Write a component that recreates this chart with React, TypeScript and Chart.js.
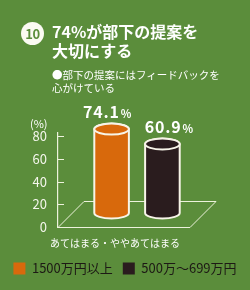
import React, { useEffect, useRef } from "react";
import { Chart, registerables } from "chart.js";

Chart.register(...registerables);

// ---- data ----
const categories = ["あてはまる・ややあてはまる"];
const seriesNames = ["1500万円以上", "500万〜699万円"];
const seriesHigh = [74.1];
const seriesMid = [60.9];
const seriesColors = ["#d8690c", "#2a1c1e"];
const yTickValues = [0, 20, 40, 60, 80];
const yMin = 0;
const yMax = 83;
const yUnit = "(%)";
const badgeText = "10";
const titleLines = ["74%が部下の提案を", "大切にする"];
const subtitleLines = ["●部下の提案にはフィードバックを", "心がけている"];

// ---- style ----
const FONT = "'Noto Sans CJK JP', 'Noto Sans', sans-serif";
const BG = "#5b8d3b";
const LINE = "#edf2dc";
const OUTLINE = "#f7f4e8";
const DEPTH = 26;
const SHIFT_X = 13;
const SHIFT_Y = 14;
const RY = 5.5;
const LABEL_NUDGE = [-4, 7];

Chart.defaults.font.family = FONT;

const cylinderPlugin = {
  id: "cylinders",
  beforeDatasetsDraw(chart: any) {
    const { ctx, chartArea: a, scales } = chart;
    ctx.save();
    ctx.strokeStyle = LINE;
    ctx.lineWidth = 1;
    const b = Math.round(a.bottom) + 0.5;
    const l = Math.round(a.left);
    const r = Math.round(a.right);
    ctx.beginPath();
    ctx.moveTo(l, b);
    ctx.lineTo(r, b);
    ctx.lineTo(r + DEPTH, b - DEPTH);
    ctx.lineTo(l + DEPTH, b - DEPTH);
    ctx.closePath();
    ctx.stroke();
    const ys = scales.y;
    ctx.beginPath();
    yTickValues.forEach((v) => {
      if (v === 0) return;
      const py = Math.round(ys.getPixelForValue(v)) + 0.5;
      ctx.moveTo(l, py);
      ctx.lineTo(l + 6, py);
    });
    ctx.lineWidth = 1.2;
    ctx.stroke();
    ctx.restore();
  },
  beforeDatasetDraw() {
    return false;
  },
  afterDatasetsDraw(chart: any) {
    const { ctx } = chart;
    chart.data.datasets.forEach((ds: any, i: number) => {
      const meta = chart.getDatasetMeta(i);
      meta.data.forEach((el: any, j: number) => {
        const cx = el.x + SHIFT_X;
        const topY = el.y - SHIFT_Y;
        const baseY = el.base - SHIFT_Y;
        const rx = el.width / 2 - 1;
        ctx.save();
        ctx.fillStyle = ds.backgroundColor;
        ctx.strokeStyle = OUTLINE;
        ctx.lineWidth = 2;
        ctx.beginPath();
        ctx.moveTo(cx - rx, topY);
        ctx.lineTo(cx - rx, baseY);
        ctx.ellipse(cx, baseY, rx, RY, 0, Math.PI, 0, true);
        ctx.lineTo(cx + rx, topY);
        ctx.ellipse(cx, topY, rx, RY, 0, 0, Math.PI, true);
        ctx.closePath();
        ctx.fill();
        ctx.stroke();
        ctx.beginPath();
        ctx.ellipse(cx, topY, rx, RY, 0, 0, Math.PI * 2);
        ctx.fill();
        ctx.stroke();

        // value label
        const value = ds.data[j];
        const num = value.toFixed(1);
        ctx.fillStyle = "#ffffff";
        ctx.textAlign = "left";
        ctx.textBaseline = "alphabetic";
        (ctx as any).letterSpacing = "0.8px";
        ctx.font = `bold 16px ${FONT}`;
        const w1 = ctx.measureText(num).width;
        ctx.font = `bold 11px ${FONT}`;
        const w2 = ctx.measureText("%").width;
        const total = w1 + 1 + w2;
        const sx = cx - total / 2 + (LABEL_NUDGE[i] || 0);
        const by = topY - RY - 6;
        ctx.font = `bold 16px ${FONT}`;
        ctx.fillText(num, sx, by);
        ctx.font = `bold 11px ${FONT}`;
        ctx.fillText("%", sx + w1 + 1, by);
        ctx.restore();
      });
    });
  },
};

export default function App() {
  const ref = useRef<HTMLCanvasElement>(null);
  useEffect(() => {
    const chart = new Chart(ref.current as HTMLCanvasElement, {
      type: "bar",
      data: {
        labels: categories,
        datasets: [
          {
            label: seriesNames[0],
            data: seriesHigh,
            backgroundColor: seriesColors[0],
            borderWidth: 0,
            categoryPercentage: 0.77,
            barPercentage: 0.72,
          },
          {
            label: seriesNames[1],
            data: seriesMid,
            backgroundColor: seriesColors[1],
            borderWidth: 0,
            categoryPercentage: 0.77,
            barPercentage: 0.72,
          },
        ],
      },
      options: {
        responsive: false,
        animation: false,
        events: [],
        layout: { padding: { top: 133, bottom: 5, left: 0, right: 0 } },
        plugins: {
          tooltip: { enabled: false },
          legend: {
            position: "bottom",
            labels: {
              boxWidth: 12,
              boxHeight: 12,
              padding: 10,
              color: "#1d1915",
              font: { size: 13, family: FONT },
            },
          },
        },
        scales: {
          x: {
            type: "category",
            grid: { display: false, drawTicks: false },
            border: { display: false },
            ticks: {
              color: "#ffffff",
              font: { size: 10, family: FONT },
              padding: 10,
              labelOffset: -9,
              maxRotation: 0,
              autoSkip: false,
            },
            afterFit: (s: any) => {
              s.height = 25;
            },
          },
          y: {
            type: "linear",
            min: yMin,
            max: yMax,
            grid: { display: false, drawTicks: false },
            border: { display: true, color: LINE, width: 1.2 },
            ticks: {
              color: "#f4f6ec",
              font: { size: 13, family: FONT },
              padding: 11,
            },
            afterBuildTicks: (s: any) => {
              s.ticks = yTickValues.map((v) => ({ value: v }));
            },
            afterFit: (s: any) => {
              s.width = 58;
            },
          },
          yRight: {
            type: "linear",
            position: "right",
            grid: { display: false, drawTicks: false },
            border: { display: false },
            ticks: { display: false },
            afterFit: (s: any) => {
              s.width = 60;
            },
          },
        },
      } as any,
      plugins: [cylinderPlugin as any],
    });
    return () => chart.destroy();
  }, []);

  return (
    <div
      style={{
        position: "fixed",
        left: 0,
        top: 0,
        width: 250,
        height: 290,
        background: BG,
        overflow: "hidden",
        fontFamily: FONT,
        color: "#ffffff",
      }}
    >
      <canvas
        ref={ref}
        width={250}
        height={290}
        style={{ position: "absolute", left: 0, top: 0, width: 250, height: 290 }}
      />
      <div
        style={{
          position: "absolute",
          left: 21,
          top: 22,
          width: 23,
          height: 23,
          borderRadius: "50%",
          background: "#fbfaf2",
          color: BG,
          fontWeight: 700,
          fontSize: 13,
          lineHeight: "23px",
          textAlign: "center",
          letterSpacing: -0.5,
        }}
      >
        {badgeText}
      </div>
      <div
        style={{
          position: "absolute",
          left: 52,
          top: 22,
          fontSize: 16,
          fontWeight: 700,
          lineHeight: "19px",
          whiteSpace: "nowrap",
        }}
      >
        {titleLines.map((t) => (
          <div key={t}>{t}</div>
        ))}
      </div>
      <div
        style={{
          position: "absolute",
          left: 52,
          top: 67.5,
          fontSize: 10.5,
          lineHeight: "13px",
          whiteSpace: "nowrap",
        }}
      >
        {subtitleLines.map((t) => (
          <div key={t}>{t}</div>
        ))}
      </div>
      <div
        style={{
          position: "absolute",
          left: 30,
          top: 116.5,
          fontSize: 11,
          lineHeight: "13px",
          whiteSpace: "nowrap",
        }}
      >
        {yUnit}
      </div>
    </div>
  );
}
